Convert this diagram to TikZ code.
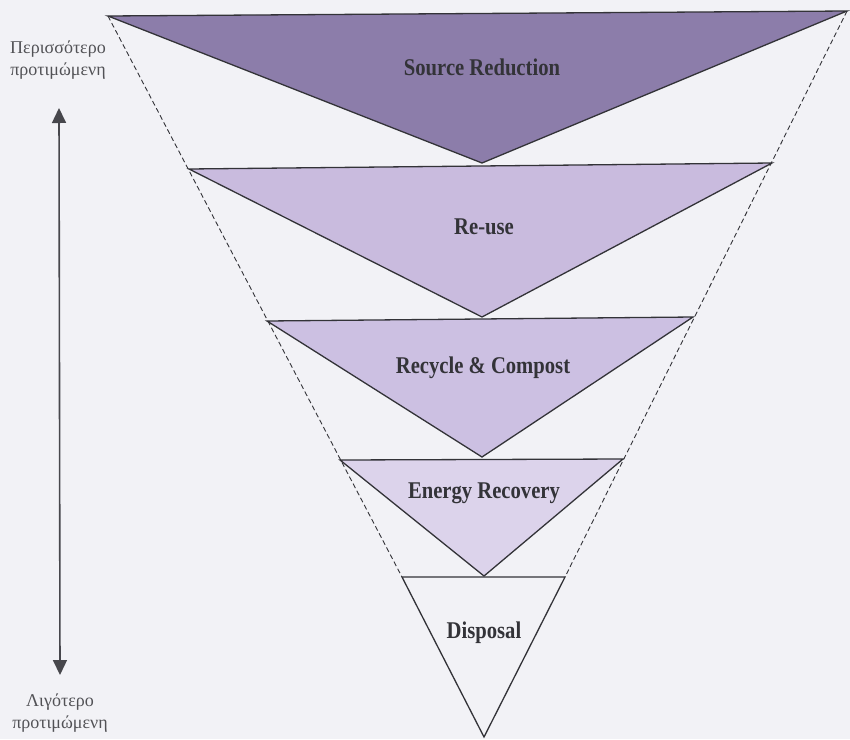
\documentclass[tikz,border=0pt]{standalone}
\usepackage{fontspec}
\setmainfont{Liberation Serif}
\newfontfamily\tierfont[FakeStretch=0.86]{Liberation Serif}
\usetikzlibrary{arrows.meta}

\definecolor{paper}{HTML}{F2F2F6}
\definecolor{tierA}{HTML}{8C7DAA}
\definecolor{tierB}{HTML}{C9BBDE}
\definecolor{tierC}{HTML}{CCC0E2}
\definecolor{tierD}{HTML}{DCD3EB}
\definecolor{ink}{HTML}{333338}

\tikzset{
  tier/.style={draw=ink, line width=1.3pt, line join=miter},
  tierlabel/.style={font=\tierfont\bfseries\fontsize{24}{26}\selectfont, text=ink, inner sep=0pt},
  guide/.style={draw=ink, line width=0.9pt, dash pattern=on 5pt off 3pt},
  sidelabel/.style={font=\fontsize{18}{22}\selectfont, text=ink!85, align=center, inner sep=0pt},
  scale arrow/.style={draw=ink!90, line width=1.6pt, {Triangle[length=15pt,width=14pt]}-{Triangle[length=15pt,width=14pt]}}
}

\begin{document}
\begin{tikzpicture}[x=1pt,y=-1pt]
  % canvas
  \fill[paper] (0,0) rectangle (850,739);
  \useasboundingbox (0,0) rectangle (850,739);

  % corners of the five inverted triangles
  \coordinate (a1) at (108,16);  \coordinate (b1) at (847,11);  \coordinate (c1) at (482,163);
  \coordinate (a2) at (189,169); \coordinate (b2) at (772,163); \coordinate (c2) at (482,317);
  \coordinate (a3) at (267,321); \coordinate (b3) at (693,317); \coordinate (c3) at (482,457);
  \coordinate (a4) at (340,460); \coordinate (b4) at (623,459); \coordinate (c4) at (484,576);
  \coordinate (a5) at (402,577); \coordinate (b5) at (565,577); \coordinate (c5) at (484,737);

  % funnel outline
  \draw[guide] (a1) -- (a5);
  \draw[guide] (b1) -- (b5);

  % tiers
  \filldraw[tier, fill=tierA] (a1) -- (b1) -- (c1) -- cycle;
  \filldraw[tier, fill=tierB] (a2) -- (b2) -- (c2) -- cycle;
  \filldraw[tier, fill=tierC] (a3) -- (b3) -- (c3) -- cycle;
  \filldraw[tier, fill=tierD] (a4) -- (b4) -- (c4) -- cycle;
  \filldraw[tier, fill=paper] (a5) -- (b5) -- (c5) -- cycle;

  \node[tierlabel] (l1) at (482,67)  {Source Reduction};
  \node[tierlabel] (l2) at (484,227) {Re-use};
  \node[tierlabel] (l3) at (483,368) {Recycle \& Compost};
  \node[tierlabel] (l4) at (484,493) {Energy Recovery};
  \node[tierlabel] (l5) at (484,633) {Disposal};

  % preference scale
  \node[sidelabel] (top) at (58,60) {Περισσότερο\\προτιμώμενη};
  \node[sidelabel] (bot) at (60,713) {Λιγότερο\\προτιμώμενη};
  \coordinate (up) at (59,108);
  \coordinate (down) at (60,675);
  \draw[scale arrow] (up) -- (down);
\end{tikzpicture}
\end{document}
